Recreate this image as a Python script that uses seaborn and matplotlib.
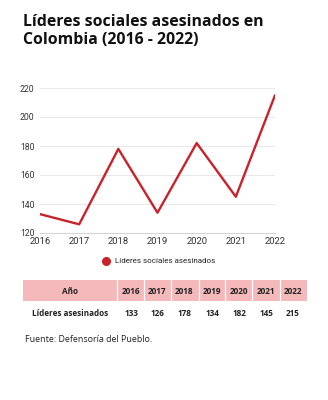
import matplotlib
matplotlib.use("Agg")
import matplotlib.pyplot as plt
from matplotlib.patches import Rectangle
from matplotlib.lines import Line2D
import seaborn as sns
import pandas as pd

years = [2016, 2017, 2018, 2019, 2020, 2021, 2022]
leaders_killed = [133, 126, 178, 134, 182, 145, 215]
y_ticks = [120, 140, 160, 180, 200, 220]
series_name = "Líderes sociales asesinados"
row_header = "Año"
row_label = "Líderes asesinados"

df = pd.DataFrame({"year": years, "value": leaders_killed})

sns.set_theme(style="white")
plt.rcParams["font.family"] = ["Roboto", "DejaVu Sans"]

RED = "#c8222b"
PINK = "#f5b9bb"
TEXT = "#222222"
W, H = 328, 400

fig = plt.figure(figsize=(W / 100, H / 100), dpi=100)
fig.patch.set_facecolor("white")

def fx(px):
    return px / W

def fy(py):
    return 1 - py / H

# Title
fig.text(fx(23), fy(31), "Líderes sociales asesinados en\nColombia (2016 - 2022)",
         ha="left", va="center", fontsize=11.4, fontweight="bold",
         family=["Open Sans", "DejaVu Sans"], color="#111111", linespacing=1.15)

# Line chart
ax = fig.add_axes([fx(40), fy(233), fx(275) - fx(40), fy(88) - fy(233)])
sns.lineplot(data=df, x="year", y="value", ax=ax, color=RED, linewidth=1.7,
             legend=False)
ax.set_xlim(years[0], years[-1])
ax.set_ylim(y_ticks[0], y_ticks[-1])
ax.set_xticks(years)
ax.set_yticks(y_ticks)
ax.set_xlabel("")
ax.set_ylabel("")
ax.grid(axis="y", color="#e8e8e8", linewidth=0.7)
ax.set_axisbelow(True)
for s in ["top", "right", "left"]:
    ax.spines[s].set_visible(False)
ax.spines["bottom"].set_color("#d6d6d6")
ax.spines["bottom"].set_linewidth(0.8)
ax.tick_params(axis="x", length=0, labelsize=6.8, colors="#333333", pad=3)
ax.tick_params(axis="y", length=0, labelsize=6.2, colors="#333333", pad=4)
for lbl in ax.get_yticklabels():
    lbl.set_horizontalalignment("right")

# Legend
handle = Line2D([], [], marker="o", linestyle="none", color=RED, markersize=5.5)
fig.legend([handle], [series_name], loc="center", bbox_to_anchor=(fx(157), fy(261)),
           frameon=False, fontsize=5.8, handletextpad=0.1, borderaxespad=0)

# Data table
table_left, table_right = 23, 307
band_top, band_bot = 280, 301
seps = [117, 144, 171, 199, 225, 252, 280]
fig.patches.append(Rectangle((fx(table_left), fy(band_bot)),
                             fx(table_right) - fx(table_left),
                             fy(band_top) - fy(band_bot),
                             transform=fig.transFigure, facecolor=PINK,
                             edgecolor="none", zorder=0))
for sx in seps:
    fig.lines.append(Line2D([fx(sx), fx(sx)], [fy(band_top), fy(band_bot)],
                            transform=fig.transFigure, color="white",
                            linewidth=0.9))

tfont = ["Open Sans", "DejaVu Sans"]
col_centers = [131, 157, 184, 212, 239, 266, 293]
fig.text(fx(70), fy(291), row_header, ha="center", va="center", fontsize=5.9,
         fontweight="bold", family=tfont, color=TEXT)
fig.text(fx(70), fy(313), row_label, ha="center", va="center", fontsize=5.9,
         fontweight="bold", family=tfont, color=TEXT)
for cx, yr, val in zip(col_centers, years, leaders_killed):
    fig.text(fx(cx), fy(291), str(yr), ha="center", va="center", fontsize=5.9,
             fontweight="bold", family=tfont, color=TEXT)
    fig.text(fx(cx), fy(313), str(val), ha="center", va="center", fontsize=5.9,
             fontweight="bold", family=tfont, color=TEXT)

fig.text(fx(25), fy(339), "Fuente: Defensoría del Pueblo.", ha="left", va="center",
         fontsize=6.4, family=tfont, color=TEXT)

fig.savefig("out.png", dpi=100, facecolor="white")
